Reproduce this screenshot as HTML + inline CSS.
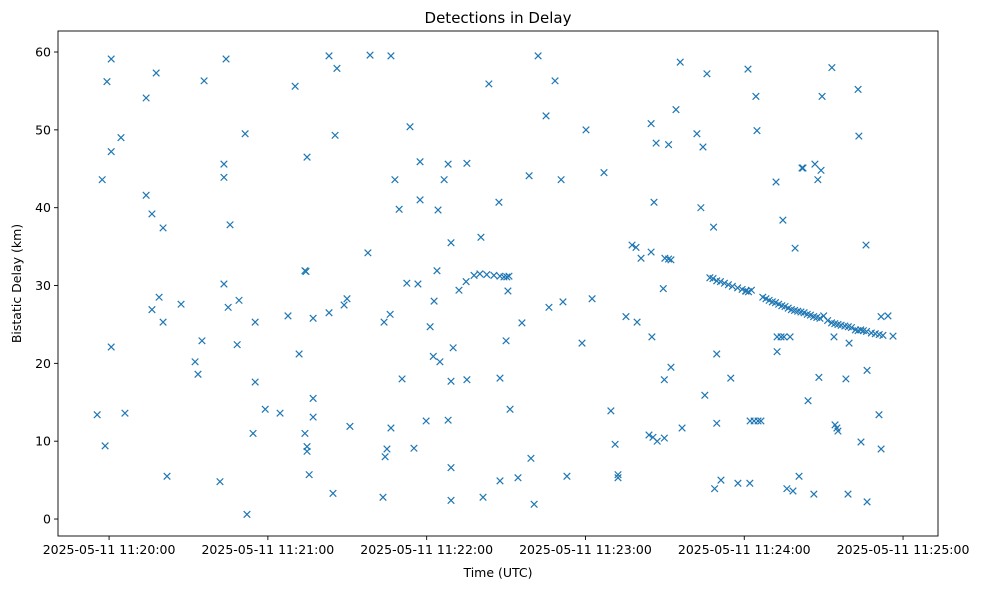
<!DOCTYPE html>
<html><head><meta charset="utf-8"><style>
body{margin:0;background:#fff;font-family:"DejaVu Sans","Liberation Sans",sans-serif}
</style></head><body>
<svg id="chart" width="986" height="590" xmlns="http://www.w3.org/2000/svg" font-family="DejaVu Sans, Liberation Sans, sans-serif"></svg>
<script>
// time in seconds after 11:20:00 UTC, delay in km
const times = [-4.5,-1.5,-2.6,-0.8,0.8,0.8,0.8,4.5,6.0,14.0,14.0,16.2,17.8,16.2,18.9,20.4,20.4,21.9,27.2,32.5,33.6,35.1,35.9,41.9,43.4,43.4,44.2,43.4,45.0,45.7,48.4,49.1,51.4,52.1,55.2,55.2,54.4,59.0,64.6,67.6,70.3,71.8,74.0,74.4,74.8,74.0,74.8,74.8,75.6,77.1,77.1,77.1,83.1,83.1,84.6,85.4,86.1,88.8,89.9,91.0,97.8,98.6,103.5,104.3,105.0,103.9,106.2,106.5,106.5,108.0,109.6,110.7,112.5,113.7,115.2,116.7,117.5,117.5,119.8,121.3,122.5,122.8,123.9,124.3,125.0,126.6,128.1,128.1,129.2,129.2,129.2,129.2,130.0,132.2,134.9,135.2,135.2,137.9,140.1,142.7,145.4,147.7,149.2,150.3,151.1,140.5,141.3,143.5,147.3,147.7,147.7,150.0,150.7,151.5,154.5,156.0,158.7,159.4,160.6,162.1,165.1,166.2,168.5,170.8,171.5,173.0,178.7,180.2,182.5,187.0,189.6,191.2,192.3,192.3,195.3,197.6,199.1,199.5,201.0,204.8,204.8,205.1,204.0,205.5,205.9,206.7,207.1,209.4,209.8,209.8,210.0,211.4,211.4,212.3,212.3,214.2,215.8,216.5,222.1,223.6,224.4,225.1,225.9,228.4,228.8,229.6,229.6,231.2,234.9,237.6,241.4,242.1,242.2,243.7,245.2,246.3,244.4,244.8,
227.0,228.2,229.6,231.0,232.5,234.0,235.5,237.5,239.2,240.5,241.6,242.7,240.7,247.0,248.2,249.4,250.6,251.8,253.0,254.2,255.4,256.6,257.8,259.0,260.2,261.4,262.6,263.8,265.0,266.2,267.4,268.6,270.0,271.5,273.0,274.2,275.4,276.6,278.0,279.3,280.5,282.0,283.0,284.0,285.0,286.2,288.0,289.5,291.0,
252.4,253.9,255.0,257.3,252.0,252.4,254.6,256.1,258.4,259.2,260.7,261.8,262.2,264.1,266.3,266.7,267.8,269.0,268.2,269.4,273.1,273.9,274.3,275.0,275.4,278.4,279.2,279.6,283.0,283.3,284.1,286.0,286.4,286.4,290.9,291.7,291.7,294.3,292.4,296.2];
const delays = [13.4,9.4,43.6,56.2,59.1,47.2,22.1,49.0,13.6,54.1,41.6,39.2,57.3,26.9,28.5,37.4,25.3,5.5,27.6,20.2,18.6,22.9,56.3,4.8,45.6,43.9,59.1,30.2,27.2,37.8,22.4,28.1,49.5,0.6,25.3,17.6,11.0,14.1,13.6,26.1,55.6,21.2,31.9,31.8,46.5,11.0,9.3,8.7,5.7,15.5,13.1,25.8,26.5,59.5,3.3,49.3,57.9,27.5,28.3,11.9,34.2,59.6,2.8,8.0,9.0,25.3,26.3,59.5,11.7,43.6,39.8,18.0,30.3,50.4,9.1,30.2,45.9,41.0,12.6,24.7,20.9,28.0,31.9,39.7,20.2,43.6,45.6,12.7,35.5,17.7,6.6,2.4,22.0,29.4,30.5,45.7,17.9,31.3,31.5,31.4,31.3,31.2,31.1,31.1,31.2,36.2,2.8,55.9,40.7,18.1,4.9,22.9,29.3,14.1,5.3,25.2,44.1,7.8,1.9,59.5,51.8,27.2,56.3,43.6,27.9,5.5,22.6,50.0,28.3,44.5,13.9,9.6,5.7,5.3,26.0,35.2,34.9,25.3,33.5,34.3,50.8,23.4,10.8,10.5,40.7,48.3,10.0,29.6,17.9,10.4,33.5,33.4,48.1,33.3,19.5,52.6,58.7,11.7,49.5,40.0,47.8,15.9,57.2,37.5,3.9,21.2,12.3,5.0,18.1,4.6,57.8,4.6,12.6,12.6,12.6,12.6,54.3,49.9,
31.0,30.9,30.6,30.5,30.3,30.1,29.9,29.7,29.5,29.3,29.2,29.4,29.3,28.5,28.3,28.1,27.9,27.8,27.6,27.4,27.3,27.1,26.9,26.8,26.7,26.6,26.5,26.3,26.2,26.0,25.9,25.8,26.1,25.5,25.2,25.1,25.0,24.9,24.8,24.7,24.6,24.3,24.2,24.3,24.2,24.1,23.9,23.8,23.7,
23.4,23.4,23.4,23.4,43.3,21.5,38.4,3.9,3.6,34.8,5.5,45.1,45.1,15.2,3.2,45.6,43.6,44.8,18.2,54.3,58.0,23.4,12.1,11.7,11.3,18.0,3.2,22.6,55.2,49.2,9.9,35.2,19.1,2.2,13.4,9.0,26.0,26.1,23.6,23.5];
const xTickSecs = [0,60,120,180,240,300];
const xTickLabels = ["2025-05-11 11:20:00","2025-05-11 11:21:00","2025-05-11 11:22:00","2025-05-11 11:23:00","2025-05-11 11:24:00","2025-05-11 11:25:00"];
const yTicks = [0,10,20,30,40,50,60];

const L=58,R=938,T=31,B=536;
const xDom=[-19.3,313.2], yDom=[-2.18,62.7];
const xs=v=>L+(v-xDom[0])/(xDom[1]-xDom[0])*(R-L);
const ys=v=>B-(v-yDom[0])/(yDom[1]-yDom[0])*(B-T);
const svg=document.getElementById('chart');
const NS='http://www.w3.org/2000/svg';
function mk(tag,attrs,parent){const e=document.createElementNS(NS,tag);for(const k in attrs)e.setAttribute(k,attrs[k]);(parent||svg).appendChild(e);return e;}

const pts=mk('g',{});


for(let i=0;i<times.length;i++){
  const x=xs(times[i]),y=ys(delays[i]),s=3.3;
  const p=mk('path',{d:`M${x-s},${y-s}L${x+s},${y+s}M${x-s},${y+s}L${x+s},${y-s}`,stroke:'#1f77b4','stroke-width':1.2,fill:'none'},pts);
  
  
}
const frame=mk('rect',{x:L,y:T,width:R-L,height:B-T,fill:'none',stroke:'#000','stroke-width':0.9});



xTickSecs.forEach((v,i)=>{
  const x=xs(v);
  mk('line',{x1:x,x2:x,y1:B,y2:B+4,stroke:'#000','stroke-width':0.9});
  const t=mk('text',{x:x,y:B+18,'text-anchor':'middle','font-size':12.5});
  t.textContent=xTickLabels[i];
  
  
});
yTicks.forEach(v=>{
  const y=ys(v);
  mk('line',{x1:L-4,x2:L,y1:y,y2:y,stroke:'#000','stroke-width':0.9});
  const t=mk('text',{x:L-7,y:y+4.5,'text-anchor':'end','font-size':12.5});
  t.textContent=v;
  
  
});
const title=mk('text',{x:(L+R)/2,y:23,'text-anchor':'middle','font-size':15});
title.textContent='Detections in Delay';


const xl=mk('text',{x:(L+R)/2,y:577,'text-anchor':'middle','font-size':12.5});
xl.textContent='Time (UTC)';


const yl=mk('text',{x:0,y:0,'text-anchor':'middle','font-size':12.5,transform:`translate(21,${(T+B)/2}) rotate(-90)`});
yl.textContent='Bistatic Delay (km)';


</script>
</body></html>
